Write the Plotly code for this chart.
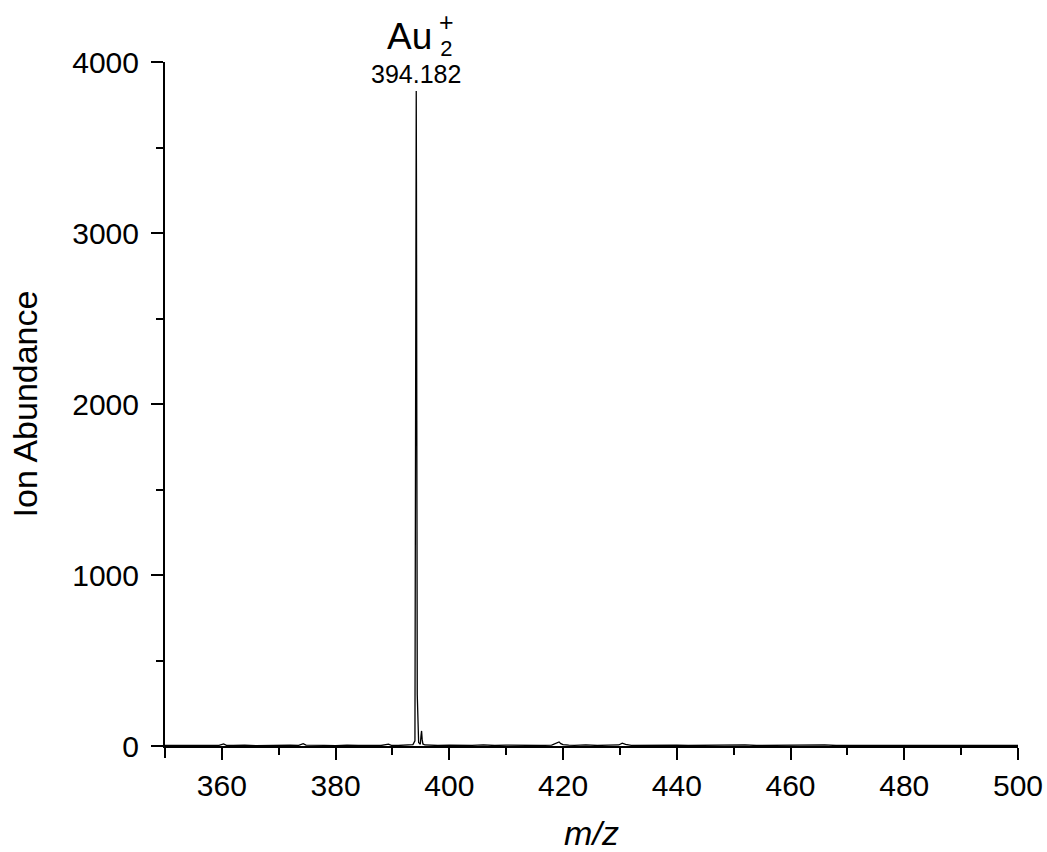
import plotly.graph_objects as go

# m/z values and ion abundance
mz = [350.0, 352.0, 354.0, 356.0, 358.0, 359.5, 360.3, 360.8, 362.0, 364.0, 366.0,
      368.0, 370.0, 372.0, 373.5, 374.3, 374.8, 376.0, 378.0, 380.0, 382.0, 384.0,
      386.0, 388.0, 389.3, 389.8, 391.0, 392.5, 393.6, 393.95, 394.08, 394.14,
      394.18, 394.22, 394.28, 394.36, 394.6, 394.9, 395.02, 395.12, 395.22, 395.35,
      395.7, 396.5, 398.0, 400.0, 402.0, 404.0, 406.0, 408.0, 410.0, 412.0, 414.0,
      416.0, 418.0, 419.3, 419.6, 420.0, 421.0, 422.0, 424.0, 426.0, 428.0, 429.8,
      430.4, 431.0, 432.0, 434.0, 436.0, 438.0, 440.0, 442.0, 444.0, 446.0, 448.0,
      450.0, 452.0, 454.0, 456.0, 458.0, 460.0, 462.0, 464.0, 466.0, 468.0, 470.0,
      472.0, 474.0, 476.0, 478.0, 480.0, 482.0, 484.0, 486.0, 488.0, 490.0, 492.0,
      494.0, 496.0, 498.0, 500.0]
abundance = [3, 4, 2, 5, 3, 4, 12, 4, 3, 5, 2,
             4, 3, 5, 4, 14, 5, 3, 4, 2, 5, 3,
             4, 3, 11, 4, 3, 5, 8, 30, 1900, 3300,
             3830, 3300, 1900, 300, 20, 10, 60, 88, 40, 12,
             6, 4, 3, 5, 3, 4, 6, 3, 5, 3, 4,
             3, 5, 24, 14, 8, 5, 4, 7, 3, 5, 6,
             16, 9, 4, 5, 3, 4, 5, 3, 4, 3, 5,
             3, 6, 3, 4, 3, 5, 3, 4, 6, 3, 4,
             3, 5, 3, 4, 3, 5, 3, 4, 3, 5, 3,
             4, 3, 4, 3]

x_ticks = [360, 380, 400, 420, 440, 460, 480, 500]
y_ticks = [0, 1000, 2000, 3000, 4000]
peak_label = "394.182"
peak_mz = 394.182
peak_height = 3830

FONT = "Liberation Sans, Arial, sans-serif"

fig = go.Figure()
fig.add_trace(go.Scatter(x=mz, y=abundance, mode="lines",
                         line=dict(color="black", width=1.3), hoverinfo="skip",
                         showlegend=False))

fig.update_layout(
    width=1047, height=852,
    margin=dict(l=165, r=29, t=62, b=106, autoexpand=False),
    paper_bgcolor="white", plot_bgcolor="white",
    font=dict(family=FONT, color="black"),
    xaxis=dict(range=[350, 500], tickvals=x_ticks, ticks="outside", ticklen=12,
               tickwidth=2, tickcolor="black", showline=True, linewidth=2,
               linecolor="black", showgrid=False, zeroline=False, automargin=False,
               tickfont=dict(size=30, family=FONT),
               minor=dict(tickvals=[350, 370, 390, 410, 430, 450, 470, 490],
                          ticks="outside", ticklen=7, tickwidth=2, tickcolor="black"),
               title=dict(text="<i>m/z</i>", font=dict(size=34, family=FONT), standoff=24)),
    yaxis=dict(range=[0, 4000], tickvals=y_ticks, ticks="outside", ticklen=12,
               tickwidth=2, tickcolor="black", showline=True, linewidth=2,
               linecolor="black", showgrid=False, zeroline=False, automargin=False,
               tickfont=dict(size=30, family=FONT), ticklabelstandoff=6,
               minor=dict(tickvals=[500, 1500, 2500, 3500],
                          ticks="outside", ticklen=7, tickwidth=2, tickcolor="black"),
               title=dict(text="Ion Abundance", font=dict(size=34, family=FONT), standoff=24)),
)

# y-axis extends slightly below the x axis
fig.add_shape(type="line", xref="paper", yref="paper", x0=0, x1=0, y0=0, y1=-12/684,
              line=dict(color="black", width=2))

fig.add_annotation(x=peak_mz, y=peak_height, xref="x", yref="y", text=peak_label,
                   showarrow=False, yanchor="bottom", yshift=1,
                   font=dict(size=25, family=FONT))
fig.add_annotation(x=0.2868, y=1.037, xref="paper", yref="paper", text="Au",
                   showarrow=False, xanchor="center", yanchor="middle", borderpad=0,
                   font=dict(size=37, family=FONT))
fig.add_annotation(x=0.3305, y=1.04, xref="paper", yref="paper",
                   text="<span style='font-size:25px'>+</span><br>"
                        "<span style='font-size:22px'>2</span>",
                   showarrow=False, xanchor="center", yanchor="middle", borderpad=0,
                   font=dict(size=19, family=FONT))

fig.write_html("out.html")
